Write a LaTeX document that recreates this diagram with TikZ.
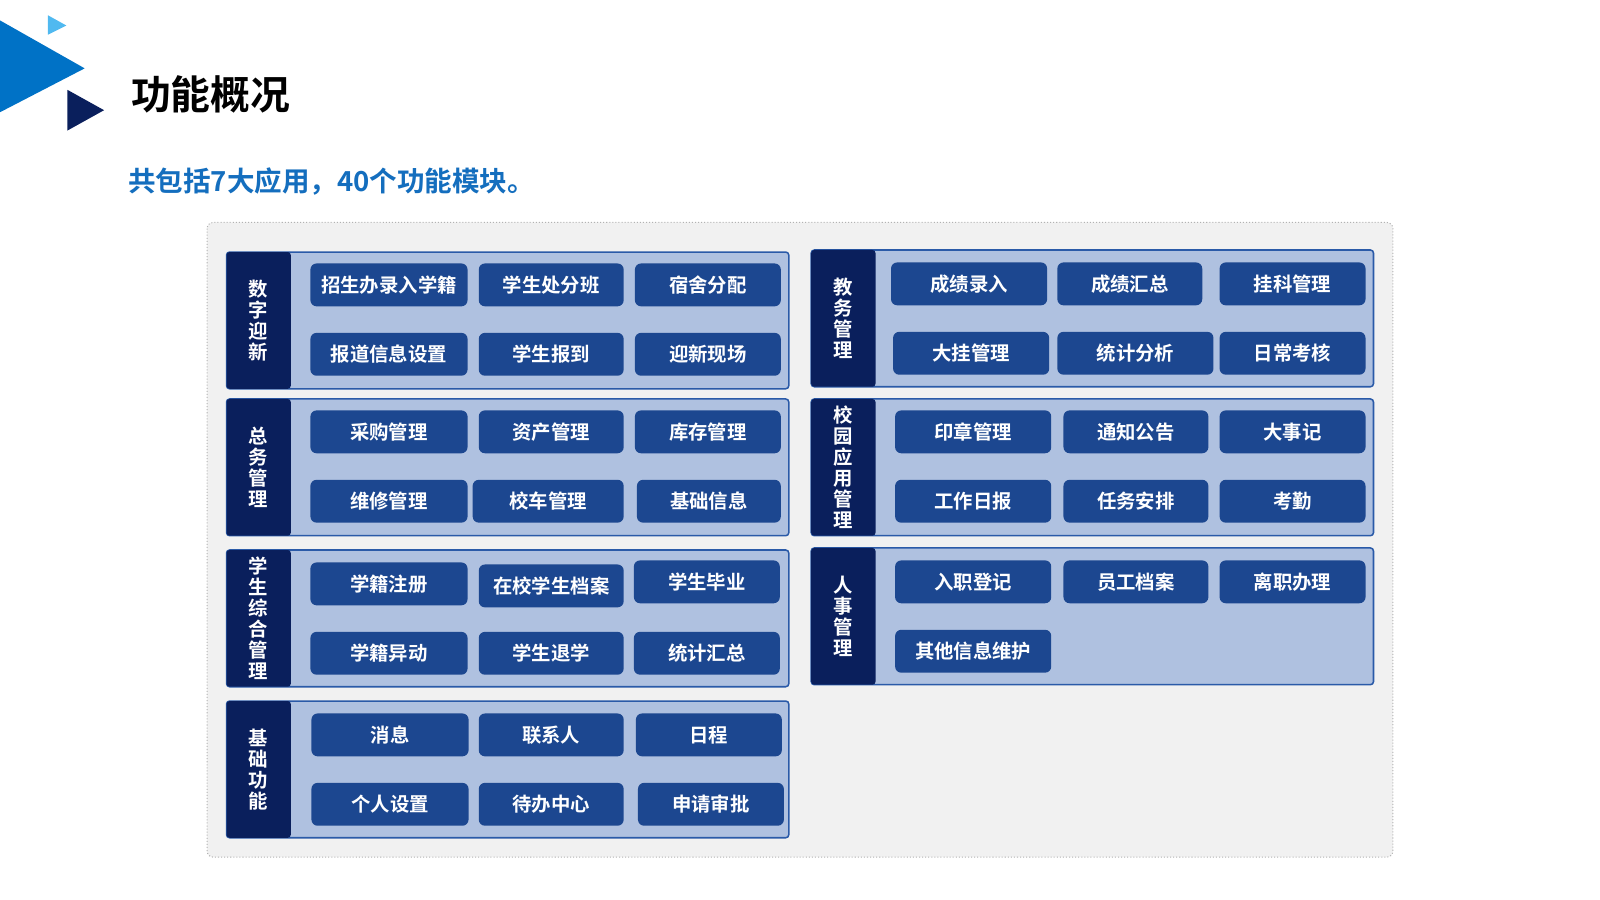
\documentclass[tikz,border=0pt]{standalone}
\usepackage{fontspec}
\setmainfont{Noto Sans CJK SC}[BoldFont={* Bold}]
\begin{document}
\begin{tikzpicture}[x=1pt,y=-1pt,
 panel/.style={draw=c1,fill=pfill,line width=1.5pt,rounded corners=3pt},
 bar/.style={fill=navy,rounded corners=3pt},
 btn/.style={fill=bfill,rounded corners=6pt,draw=none,text=white,font=\bfseries\fontsize{19}{21}\selectfont,anchor=north west,inner sep=0pt,align=center},
 vlab/.style={text=white,font=\bfseries\fontsize{19}{20.5}\selectfont,align=center,inner sep=0pt}]
\definecolor{c1}{HTML}{2A5AA8}\definecolor{pfill}{HTML}{AFC1E0}
\definecolor{navy}{HTML}{0A1F5C}\definecolor{bfill}{HTML}{1C4790}
\useasboundingbox (0,0) rectangle (1568,882);
\fill[white] (0,0) rectangle (1568,882);
\fill[fill={rgb,255:red,0;green,114;blue,198}] (0,20)--(83,67)--(0,110)--cycle;
\fill[fill={rgb,255:red,80;green,185;blue,240}] (47,15)--(65,25)--(47,34)--cycle;
\fill[navy] (66,88)--(102,108)--(66,128)--cycle;
\node[anchor=west,font=\bfseries\fontsize{39}{41}\selectfont] (title) at (125,93) {功能概况};
\node[anchor=west,text={rgb,255:red,20;green,110;blue,190},font=\bfseries\fontsize{27}{29}\selectfont] (sub) at (122,178) {共包括7大应用，40个功能模块。};
\draw[gray!60,dotted,line width=1pt,fill={rgb,255:red,241;green,241;blue,241},rounded corners=6pt] (203,218) rectangle (1365,840);
\newcommand\pnl[4]{% x0,y0,name,label
 \draw[panel] (#1,#2) rectangle ++(551,134);
 \fill[bar] (#1,#2) rectangle ++(63,134);
 \node[vlab] (#3) at (#1+31.5,#2+67) {#4};}
\newcommand\bt[6]{% name x y w text
 \node[btn,minimum width=#4pt,minimum height=42pt] (#1) at (#2,#3) {#5#6};}
% left
\pnl{222}{247}{L1}{数\\字\\迎\\新}
\bt{a1}{304}{258}{154}{招生办录入学籍}{}\bt{a2}{469}{258}{142}{学生处分班}{}\bt{a3}{622}{258}{143}{宿舍分配}{}
\bt{a4}{304}{326}{154}{报道信息设置}{}\bt{a5}{469}{326}{142}{学生报到}{}\bt{a6}{622}{326}{143}{迎新现场}{}
\pnl{222}{391}{L2}{总\\务\\管\\理}
\bt{b1}{304}{402}{154}{采购管理}{}\bt{b2}{469}{402}{142}{资产管理}{}\bt{b3}{622}{402}{143}{库存管理}{}
\bt{b4}{304}{470}{154}{维修管理}{}\bt{b5}{463}{470}{148}{校车管理}{}\bt{b6}{624}{470}{141}{基础信息}{}
\pnl{222}{539}{L3}{学\\生\\综\\合\\管\\理}
\bt{c1}{304}{551}{154}{学籍注册}{}\bt{c2}{469}{553}{142}{在校学生档案}{}\bt{c3}{621}{549}{143}{学生毕业}{}
\bt{c4}{304}{619}{154}{学籍异动}{}\bt{c5}{469}{619}{142}{学生退学}{}\bt{c6}{621}{619}{143}{统计汇总}{}
\pnl{222}{687}{L4}{基\\础\\功\\能}
\bt{d1}{305}{699}{154}{消息}{}\bt{d2}{469}{699}{142}{联系人}{}\bt{d3}{623}{699}{143}{日程}{}
\bt{d4}{305}{767}{154}{个人设置}{}\bt{d5}{469}{767}{142}{待办中心}{}\bt{d6}{625}{767}{143}{申请审批}{}
% right
\pnl{795}{245}{R1}{教\\务\\管\\理}
\bt{e1}{873}{257}{153}{成绩录入}{}\bt{e2}{1036}{257}{142}{成绩汇总}{}\bt{e3}{1195}{257}{143}{挂科管理}{}
\bt{e4}{875}{325}{153}{大挂管理}{}\bt{e5}{1036}{325}{153}{统计分析}{}\bt{e6}{1195}{325}{143}{日常考核}{}
\pnl{795}{391}{R2}{校\\园\\应\\用\\管\\理}
\bt{f1}{877}{402}{153}{印章管理}{}\bt{f2}{1042}{402}{142}{通知公告}{}\bt{f3}{1195}{402}{143}{大事记}{}
\bt{f4}{877}{470}{153}{工作日报}{}\bt{f5}{1042}{470}{142}{任务安排}{}\bt{f6}{1195}{470}{143}{考勤}{}
\pnl{795}{537}{R3}{人\\事\\管\\理}
\bt{g1}{877}{549}{153}{入职登记}{}\bt{g2}{1042}{549}{142}{员工档案}{}\bt{g3}{1195}{549}{143}{离职办理}{}
\bt{g4}{877}{617}{153}{其他信息维护}{}
\end{tikzpicture}
\end{document}
